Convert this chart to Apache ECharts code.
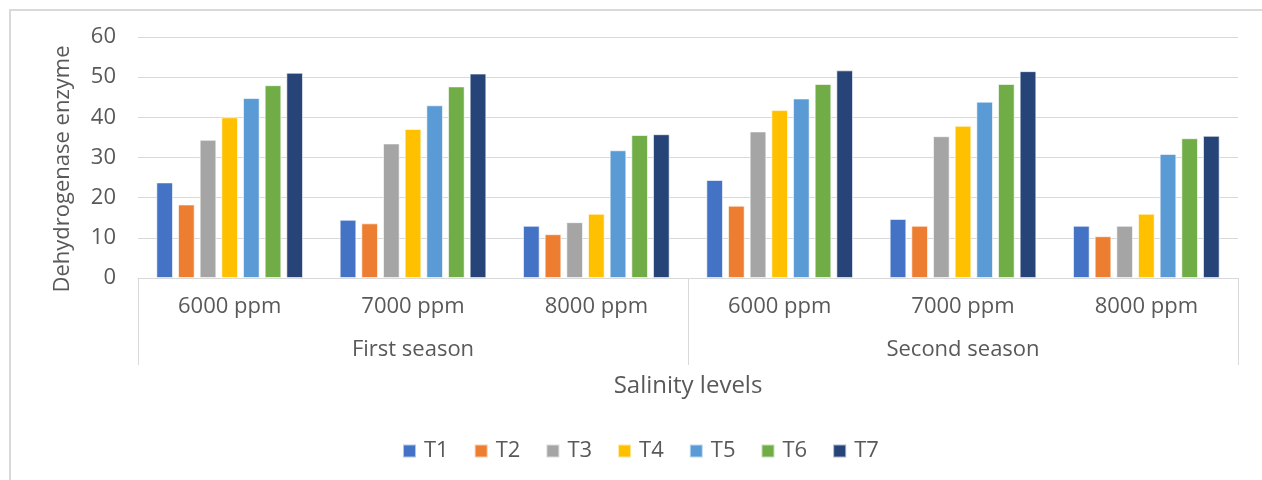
<!DOCTYPE html>
<html>
<head>
<meta charset="utf-8">
<script src="https://cdn.jsdelivr.net/npm/echarts@6/dist/echarts.min.js"></script>
<style>html,body{margin:0;padding:0;background:#fff;}#c{width:1262px;height:480px;}</style>
</head>
<body>
<div id="c"></div>
<script>
var levels = ['6000 ppm', '7000 ppm', '8000 ppm', '6000 ppm', '7000 ppm', '8000 ppm'];
var seasons = ['First season', 'Second season'];
var seriesNames = ['T1', 'T2', 'T3', 'T4', 'T5', 'T6', 'T7'];
var T1 = [23.8, 14.5, 13.0, 24.4, 14.7, 13.0];
var T2 = [18.3, 13.6, 10.9, 18.0, 13.0, 10.4];
var T3 = [34.4, 33.5, 13.9, 36.5, 35.3, 13.0];
var T4 = [40.0, 37.1, 16.0, 41.8, 37.9, 16.0];
var T5 = [44.8, 43.0, 31.8, 44.7, 43.9, 30.9];
var T6 = [48.0, 47.7, 35.6, 48.3, 48.3, 34.8];
var T7 = [51.1, 50.9, 35.8, 51.7, 51.5, 35.4];
var values = [T1, T2, T3, T4, T5, T6, T7];
var colors = ['#4472C4', '#ED7D31', '#A5A5A5', '#FFC000', '#5B9BD5', '#70AD47', '#264478'];

var txt = '#595959';
var font = 'Open Sans';
var chart = echarts.init(document.getElementById('c'));
chart.setOption({
  animation: false,
  backgroundColor: '#ffffff',
  color: colors,
  textStyle: { fontFamily: font },
  graphic: [{
    type: 'rect',
    shape: { x: 10, y: 10, width: 1400, height: 600 },
    style: { fill: 'none', stroke: '#d9d9d9', lineWidth: 2 },
    silent: true
  }],
  grid: { left: 138, right: 24, top: 37, bottom: 202 },
  legend: {
    data: seriesNames,
    bottom: 13,
    left: 397,
    itemWidth: 13,
    itemHeight: 13,
    itemGap: 25,
    icon: 'rect',
    textStyle: { color: txt, fontSize: 22, fontFamily: font, padding: [0, 0, 0, 3] }
  },
  xAxis: [{
    type: 'category',
    data: levels,
    axisLine: { lineStyle: { color: '#d9d9d9', width: 1 } },
    axisTick: { show: false },
    axisLabel: { color: txt, fontSize: 22, margin: 18, fontFamily: font }
  }, {
    type: 'category',
    data: seasons,
    position: 'bottom',
    axisLine: { show: false },
    axisTick: { show: true, length: 87, lineStyle: { color: '#d9d9d9', width: 1 } },
    axisLabel: { color: txt, fontSize: 22, margin: 61, fontFamily: font },
    name: 'Salinity levels',
    nameLocation: 'middle',
    nameGap: 96,
    nameTextStyle: { color: txt, fontSize: 24, fontFamily: font }
  }],
  yAxis: {
    type: 'value',
    min: 0,
    max: 60,
    interval: 10,
    axisLine: { show: false },
    axisTick: { show: false },
    splitLine: { lineStyle: { color: '#d9d9d9', width: 1 } },
    axisLabel: { color: txt, fontSize: 22, margin: 22, fontFamily: font },
    name: 'Dehydrogenase enzyme',
    nameLocation: 'middle',
    nameGap: 64,
    nameTextStyle: { color: txt, fontSize: 22, fontFamily: font, padding: [0, 23, 0, 0] }
  },
  series: seriesNames.map(function (n, i) {
    return {
      name: n,
      type: 'bar',
      xAxisIndex: 0,
      data: values[i],
      barGap: '30%',
      barCategoryGap: '20%',
      itemStyle: { borderColor: 'rgba(255,255,255,0.6)', borderWidth: 1 }
    };
  })
});
</script>
</body>
</html>
